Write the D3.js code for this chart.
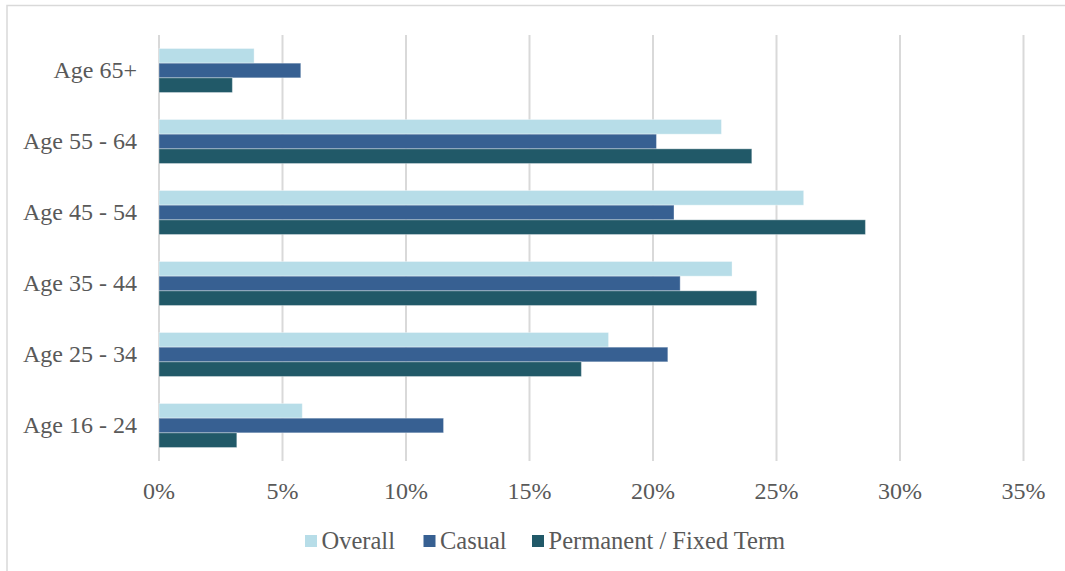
<!DOCTYPE html>
<html>
<head>
<meta charset="utf-8" />
<style>
  html, body { margin: 0; padding: 0; background: #fff; }
  svg text { font-family: "Times New Roman", "Liberation Serif", Tinos, serif; fill: #595959; }
  .grid line { stroke: #d9d9d9; stroke-width: 2px; }
  .bar { stroke: #ffffff; stroke-opacity: 0.35; stroke-width: 1px; }
</style>
</head>
<body>
<div id="vis"></div>
<script src="https://d3js.org/d3.v7.min.js"></script>
<script>
(function() {
  var W = 1065, H = 571;

  // data
  var categories = ["Age 65+", "Age 55 - 64", "Age 45 - 54", "Age 35 - 44", "Age 25 - 34", "Age 16 - 24"];
  var seriesNames = ["Overall", "Casual", "Permanent / Fixed Term"];
  var overall   = [3.85, 22.77, 26.1, 23.2, 18.2, 5.8];
  var casual    = [5.74, 20.14, 20.85, 21.1, 20.6, 11.52];
  var permanent = [2.97, 24.0, 28.6, 24.2, 17.1, 3.15];
  var ticks = [0, 5, 10, 15, 20, 25, 30, 35];
  var colors = ["#b7dde8", "#376092", "#215968"];

  var values = [overall, casual, permanent];

  var svg = d3.select("#vis").append("svg")
    .attr("width", W).attr("height", H);

  // chart frame
  svg.append("rect")
    .attr("x", 7).attr("y", 5.5).attr("width", W + 10).attr("height", H + 10)
    .attr("fill", "none").attr("stroke", "#d9d9d9").attr("stroke-width", 1.5);

  var x = d3.scaleLinear().domain([0, 35]).range([159, 1023.5]);
  var y = d3.scaleBand().domain(categories).range([35, 461]).paddingInner(0.38).paddingOuter(0.19);
  var ySub = d3.scaleBand().domain(seriesNames).range([0, y.bandwidth()]);

  // gridlines
  svg.append("g").attr("class", "grid")
    .selectAll("line").data(ticks).enter().append("line")
      .attr("x1", function(d) { return x(d); }).attr("x2", function(d) { return x(d); })
      .attr("y1", 35).attr("y2", 461);

  // bars
  var groups = svg.append("g").selectAll("g").data(categories).enter().append("g")
    .attr("transform", function(d) { return "translate(0," + y(d) + ")"; });

  groups.selectAll("rect")
    .data(function(d, i) { return seriesNames.map(function(s, j) { return { s: s, v: values[j][i], j: j }; }); })
    .enter().append("rect").attr("class", "bar")
      .attr("x", x(0))
      .attr("y", function(d) { return ySub(d.s); })
      .attr("width", function(d) { return x(d.v) - x(0); })
      .attr("height", ySub.bandwidth())
      .attr("fill", function(d) { return colors[d.j]; });

  // category labels
  svg.append("g").selectAll("text").data(categories).enter().append("text")
    .attr("x", 137)
    .attr("y", function(d) { return y(d) + y.bandwidth() / 2; })
    .attr("dy", "0.33em")
    .attr("text-anchor", "end")
    .attr("font-size", 24)
    .text(function(d) { return d; });

  // x tick labels
  svg.append("g").selectAll("text").data(ticks).enter().append("text")
    .attr("x", function(d) { return x(d); })
    .attr("y", 491)
    .attr("dy", "0.33em")
    .attr("text-anchor", "middle")
    .attr("font-size", 24)
    .text(function(d) { return d + "%"; });

  // legend
  var legendX = [305, 423.5, 532];
  var legend = svg.append("g").selectAll("g").data(seriesNames).enter().append("g")
    .attr("transform", function(d, i) { return "translate(" + legendX[i] + ",541)"; });
  legend.append("rect")
    .attr("x", 0).attr("y", -6).attr("width", 12).attr("height", 12)
    .attr("fill", function(d, i) { return colors[i]; });
  legend.append("text")
    .attr("x", 16.5).attr("dy", "0.33em")
    .attr("font-size", 24.5)
    .text(function(d) { return d; });
})();
</script>
</body>
</html>
